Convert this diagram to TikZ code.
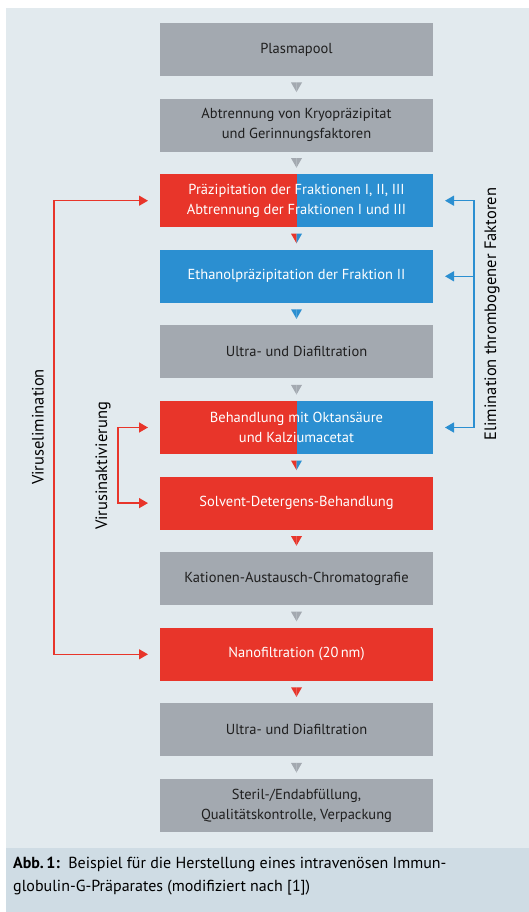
\documentclass[tikz,border=0pt]{standalone}
\usepackage{fontspec}
\setmainfont{PT Sans}
\usetikzlibrary{arrows.meta,positioning,calc}

\definecolor{virusred}{HTML}{E8352A}
\definecolor{faktorblue}{HTML}{2B8FD1}
\definecolor{stepgray}{HTML}{A3A9B0}
\definecolor{panelbg}{HTML}{E2EAEE}
\definecolor{captionbg}{HTML}{CFDCE4}

\tikzset{
    proc/.style={minimum width=273pt, minimum height=53pt, inner sep=0pt, outer sep=0pt,
        align=center, font=\fontsize{14.5}{20}\selectfont},
    grayproc/.style={proc, fill=stepgray, text=black!88},
    redproc/.style={proc, fill=virusred, text=white},
    blueproc/.style={proc, fill=faktorblue, text=white},
    splitproc/.style={proc, fill=faktorblue, text=white,
        path picture={\fill[virusred] (path picture bounding box.south west)
            rectangle (path picture bounding box.north);}},
    redline/.style={draw=virusred, line width=1.4pt},
    blueline/.style={draw=faktorblue, line width=1.4pt},
    sidelabel/.style={rotate=90, inner sep=0pt, font=\fontsize{16.5}{18}\selectfont}
}

\begin{document}
\begin{tikzpicture}[x=1pt, y=-1pt, >={Triangle[length=9pt,width=10pt]}]
    \useasboundingbox (0,0) rectangle (529,912);
    \fill[panelbg] (6,8) rectangle (529,848);
    \fill[captionbg] (6,848) rectangle (529,912);

    % process steps
    \node[grayproc] (b1) at (296.5,49.5) {Plasmapool};
    \node[grayproc, below=22.6pt of b1] (b2) {Abtrennung von Kryopräzipitat\\und Gerinnungsfaktoren};
    \node[splitproc, below=22.6pt of b2] (b3) {Präzipitation der Fraktionen I, II, III\\Abtrennung der Fraktionen I und III};
    \node[blueproc, below=22.6pt of b3] (b4) {Ethanolpräzipitation der Fraktion II};
    \node[grayproc, below=22.6pt of b4] (b5) {Ultra- und Diafiltration};
    \node[splitproc, below=22.6pt of b5] (b6) {Behandlung mit Oktansäure\\und Kalziumacetat};
    \node[redproc, below=22.6pt of b6] (b7) {Solvent-Detergens-Behandlung};
    \node[grayproc, below=22.6pt of b7] (b8) {Kationen-Austausch-Chromatografie};
    \node[redproc, below=22.6pt of b8] (b9) {Nanofiltration (20\,nm)};
    \node[grayproc, below=22.6pt of b9] (b10) {Ultra- und Diafiltration};
    \node[grayproc, below=22.6pt of b10] (b11) {Steril-/Endabfüllung,\\Qualitätskontrolle, Verpackung};

    % small triangles between the steps
    \foreach \a/\b/\cl/\cr in {b1/b2/stepgray/stepgray, b2/b3/stepgray/stepgray,
        b3/b4/virusred/faktorblue, b4/b5/faktorblue/faktorblue, b5/b6/stepgray/stepgray,
        b6/b7/virusred/faktorblue, b7/b8/virusred/virusred, b8/b9/stepgray/stepgray,
        b9/b10/virusred/virusred, b10/b11/stepgray/stepgray} {
        \coordinate (m) at ($(\a.south)!0.5!(\b.north)$);
        \fill[\cl] ($(m)+(-5.5,-4.8)$) -- ($(m)+(0,-4.8)$) -- ($(m)+(0,4.8)$) -- cycle;
        \fill[\cr] ($(m)+(0,-4.8)$) -- ($(m)+(5.5,-4.8)$) -- ($(m)+(0,4.8)$) -- cycle;
    }

    % brackets
    \coordinate (ve) at (54,427);
    \coordinate (vi) at (118,466);
    \coordinate (ef) at (474,314);
    \draw[redline, <->] ([xshift=-12pt]b3.west) -| (ve) |- ([xshift=-12pt]b9.west);
    \draw[redline, <->] ([xshift=-12pt]b6.west) -| (vi) |- ([xshift=-12pt]b7.west);
    \draw[blueline, <->] ([xshift=12pt]b3.east) -| (ef) |- ([xshift=12pt]b6.east);
    \draw[blueline, ->] (ef |- b4) -- ([xshift=12pt]b4.east);

    \node[sidelabel] (velab) at (38,427) {Viruselimination};
    \node[sidelabel] (vilab) at (103,466) {Virusinaktivierung};
    \node[sidelabel] (eflab) at (492,314) {Elimination thrombogener Faktoren};

    % caption
    \node[anchor=north west, align=left, inner sep=0pt,
        font=\fontsize{16}{23}\selectfont] (caption) at (13,857)
        {\textbf{Abb.\,1:}\ \ Beispiel für die Herstellung eines intravenösen Immun-\\globulin-G-Präparates (modifiziert nach [1])};
\end{tikzpicture}
\end{document}
